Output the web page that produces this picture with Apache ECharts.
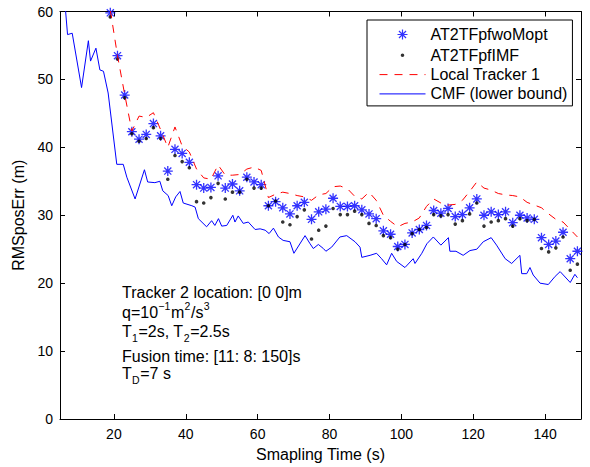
<!DOCTYPE html>
<html><head><meta charset="utf-8">
<script src="https://cdn.jsdelivr.net/npm/echarts@6/dist/echarts.min.js"></script>
<style>html,body{margin:0;padding:0;background:#fff}#c{width:590px;height:467px}</style>
</head><body><div id="c"></div>
<script>
// ---- data ----
const fusionTimes = [19,21,23,25,27,29,31,33,35,37,39,41,43,45,47,49,51,53,55,57,59,61,63,65,67,69,71,73,75,77,79,81,83,85,87,89,91,93,95,97,99,101,103,105,107,109,111,113,115,117,119,121,123,125,127,129,131,133,135,137,139,141,143,145,147,149];
const starVals = [59.8,53.5,47.7,42.3,41.2,41.9,43.5,41.7,36.5,39.7,39.1,37.8,34.5,34.0,34.1,35.8,34.0,34.6,33.6,35.6,34.9,34.5,31.4,32.0,31.1,30.2,31.4,31.9,29.4,30.5,30.9,32.5,31.3,31.3,31.4,30.8,30.2,29.5,27.7,27.2,25.4,25.7,27.4,27.9,28.5,30.7,30.3,31.0,29.8,30.1,31.1,32.4,30.0,30.5,30.1,30.5,28.9,30.0,29.6,29.4,26.7,25.7,26.2,27.5,23.6,24.7];
const dotVals = [59.2,53.0,47.3,42.0,40.9,41.3,42.9,41.3,35.3,38.8,37.9,37.0,32.0,31.8,32.6,34.7,32.4,33.4,33.4,35.3,34.0,34.0,31.4,32.1,29.0,28.6,29.8,30.8,26.5,27.8,28.4,31.0,30.1,30.1,30.6,30.1,28.8,28.5,27.0,26.7,25.0,25.7,27.3,27.9,28.2,30.1,29.9,30.1,28.7,29.2,30.2,31.8,28.4,29.0,29.2,29.5,28.4,29.5,29.2,29.4,25.1,24.6,25.2,26.8,21.9,22.8];
const localVals = [60.2,53.5,47.8,42.4,44.6,44.4,45.1,42.6,40.0,43.0,40.2,39.3,36.8,35.5,35.3,37.4,35.9,35.9,36.0,36.8,37.1,36.6,32.6,33.1,33.4,33.2,32.9,32.7,32.2,33.0,33.2,34.2,34.3,33.9,32.8,32.4,33.4,32.2,30.0,29.1,28.3,28.8,29.0,29.6,31.3,32.4,31.8,31.5,31.6,32.2,33.5,34.9,34.0,33.7,33.2,33.0,32.9,32.7,31.9,31.5,31.1,30.2,29.4,29.0,27.9,26.8];
const cmfTimes = [5,7.1,8.4,11.0,12.9,13.5,15.0,16.1,17.1,18.4,20.8,22.6,23.6,25.9,28.5,29.4,31.4,32.8,33.6,35.1,36.1,37.2,38.4,39.3,41.7,42.6,43.5,45.8,47.2,48.1,49.1,50.0,51.4,53.1,53.7,54.6,56.0,57.4,59.3,60.7,62.1,63.2,64.4,65.8,67.1,69.0,70.1,73.2,74.6,75.5,76.9,78.3,79.0,80.6,82.9,84.8,87.1,88.5,89.0,91.3,93.1,94.5,95.9,97.3,98.7,101.0,103.3,103.8,105.7,107.1,108.9,111.0,113.1,113.5,115.2,117.2,119.1,121.0,122.8,125.0,126.5,128.9,130.7,133.0,133.5,134.9,135.8,136.7,138.6,140.9,142.8,144.2,147.0,148.3,149.0];
const cmfVals = [70,56.6,56.8,48.8,55.7,52.7,54.6,51.4,51.2,48.0,37.5,37.5,35.6,32.4,36.7,34.9,34.8,35.0,33.6,32.9,31.4,32.7,33.5,31.8,31.4,31.2,29.5,28.3,29.2,28.5,29.5,28.4,28.5,30.0,29.0,29.9,28.8,29.0,27.9,28.0,27.8,27.3,28.1,26.8,26.3,26.1,24.4,27.0,25.8,25.1,25.7,25.1,24.7,25.3,26.8,27.0,26.1,25.3,23.8,24.1,24.4,23.6,22.7,24.4,23.2,22.3,23.6,22.9,24.4,25.8,26.8,25.6,26.7,24.7,24.7,24.1,24.8,25.0,26.1,26.7,25.6,23.6,22.9,24.1,21.4,21.4,22.3,21.2,20.0,19.8,21.0,21.7,20.1,21.3,20.8];
const xTicks = [20,40,60,80,100,120,140];
const seriesNames = ['AT2TFpfwoMopt','AT2TFpfIMF','Local Tracker 1','CMF (lower bound)'];
const xTitle = 'Smapling Time (s)';
const yTitle = 'RMSposErr (m)';
// annotation lines: [text, script] pieces, script 0 = normal, 1 = superscript, -1 = subscript
const noteLines = [
  [['Tracker 2 location: [0 0]m', 0]],
  [['q=10', 0], ['−1', 1], ['m', 0], ['2', 1], ['/s', 0], ['3', 1]],
  [['T', 0], ['1', -1], ['=2s, T', 0], ['2', -1], ['=2.5s', 0]],
  [['Fusion time: [11: 8: 150]s', 0]],
  [['T', 0], ['D', -1], ['=7 s', 0]]
];

// ---- chart ----
const FONT = '"Liberation Sans", Arial, Helvetica, sans-serif';
const pair = (xs, ys) => xs.map((x, i) => [x, ys[i]]);
const starPath = 'path://M0,-5L0,5M-5,0L5,0M-3.54,-3.54L3.54,3.54M-3.54,3.54L3.54,-3.54';
const starIcon = 'path://M-23,-7M23,7M0,-5L0,5M-5,0L5,0M-3.54,-3.54L3.54,3.54M-3.54,3.54L3.54,-3.54';
const dotIcon = 'path://M-23,-7M23,7M-1.8,0A1.8,1.8 0 1 1 1.8,0A1.8,1.8 0 1 1 -1.8,0Z';

const chart = echarts.init(document.getElementById('c'), null, {renderer: 'svg'});
const axisLine = {show: true, onZero: false, lineStyle: {color: '#000', width: 1}};
const tickStyle = {show: true, inside: true, length: 5, lineStyle: {color: '#000', width: 1}};

const measureCtx = document.createElement('canvas').getContext('2d');
function textWidth(t, size) {
  measureCtx.font = size + 'px ' + FONT;
  return measureCtx.measureText(t).width;
}
const noteY = [292.0, 312.4, 331.0, 356.8, 373.6];
const graphics = [];
noteLines.forEach((parts, li) => {
  let x = 122;
  parts.forEach(([t, s]) => {
    const size = s === 0 ? 16 : 10.5;
    const dy = s === 1 ? -6.4 : (s === -1 ? 6.5 : 0);
    graphics.push({type: 'text', x: x, y: noteY[li] + dy, z: 100,
      style: {text: t, fontSize: size, fontFamily: FONT, fill: '#000',
        verticalAlign: 'middle', align: 'left'}});
    x += textWidth(t, size) + (s === 0 ? 0.3 : 0.6);
  });
});
const hiddenSym = {color: 'transparent', borderColor: 'transparent', borderWidth: 0};

chart.setOption({
  animation: false,
  backgroundColor: '#fff',
  textStyle: {fontFamily: FONT},
  grid: {left: 60, right: 9, top: 11.5, bottom: 45.5, containLabel: false},
  xAxis: [
    {type: 'value', min: 5, max: 150, position: 'bottom',
     axisLine: axisLine,
     axisTick: Object.assign({customValues: xTicks}, tickStyle),
     axisLabel: {customValues: xTicks, color: '#000', fontSize: 14, margin: 8, fontFamily: FONT},
     splitLine: {show: false},
     name: xTitle, nameLocation: 'middle', nameGap: 27,
     nameTextStyle: {color: '#000', fontSize: 16, fontFamily: FONT}},
    {type: 'value', min: 5, max: 150, position: 'top',
     axisLine: axisLine,
     axisTick: Object.assign({customValues: xTicks}, tickStyle),
     axisLabel: {show: false}, splitLine: {show: false}}
  ],
  yAxis: [
    {type: 'value', min: 0, max: 60, interval: 10, position: 'left',
     axisLine: axisLine, axisTick: tickStyle,
     axisLabel: {color: '#000', fontSize: 14, margin: 7, fontFamily: FONT},
     splitLine: {show: false},
     name: yTitle, nameLocation: 'middle', nameGap: 30,
     nameTextStyle: {color: '#000', fontSize: 16, fontFamily: FONT}},
    {type: 'value', min: 0, max: 60, interval: 10, position: 'right',
     axisLine: axisLine, axisTick: tickStyle,
     axisLabel: {show: false}, splitLine: {show: false}}
  ],
  legend: {
    orient: 'vertical', left: 367, top: 20,
    padding: [5, 5, 4, 10], itemGap: 3.3, itemWidth: 46, itemHeight: 14,
    borderColor: '#000', borderWidth: 1, backgroundColor: '#fff',
    textStyle: {fontSize: 16, fontFamily: FONT, color: '#000', lineHeight: 16},
    lineStyle: {width: 1},
    data: [
      {name: seriesNames[0], icon: starIcon, itemStyle: {color: 'none', borderColor: '#0000ff', borderWidth: 1.2}},
      {name: seriesNames[1], icon: dotIcon, itemStyle: {color: '#000', borderWidth: 0}},
      {name: seriesNames[2], itemStyle: hiddenSym},
      {name: seriesNames[3], itemStyle: hiddenSym}
    ]
  },
  graphic: graphics,
  series: [
    {name: seriesNames[0], type: 'scatter', data: pair(fusionTimes, starVals),
     symbol: starPath, symbolSize: 10,
     itemStyle: {color: 'none', borderColor: '#0000ff', borderWidth: 1.3}},
    {name: seriesNames[1], type: 'scatter', data: pair(fusionTimes, dotVals),
     symbol: 'circle', symbolSize: 3.6, itemStyle: {color: '#000'}},
    {name: seriesNames[2], type: 'line', data: pair(fusionTimes, localVals),
     symbol: 'none', showSymbol: false,
     lineStyle: {color: '#ff0000', width: 1, type: [8, 7]}, itemStyle: {color: '#ff0000'}},
    {name: seriesNames[3], type: 'line', data: pair(cmfTimes, cmfVals),
     symbol: 'none', showSymbol: false, clip: true,
     lineStyle: {color: '#0000ff', width: 1}, itemStyle: {color: '#0000ff'}}
  ]
});
</script></body></html>
